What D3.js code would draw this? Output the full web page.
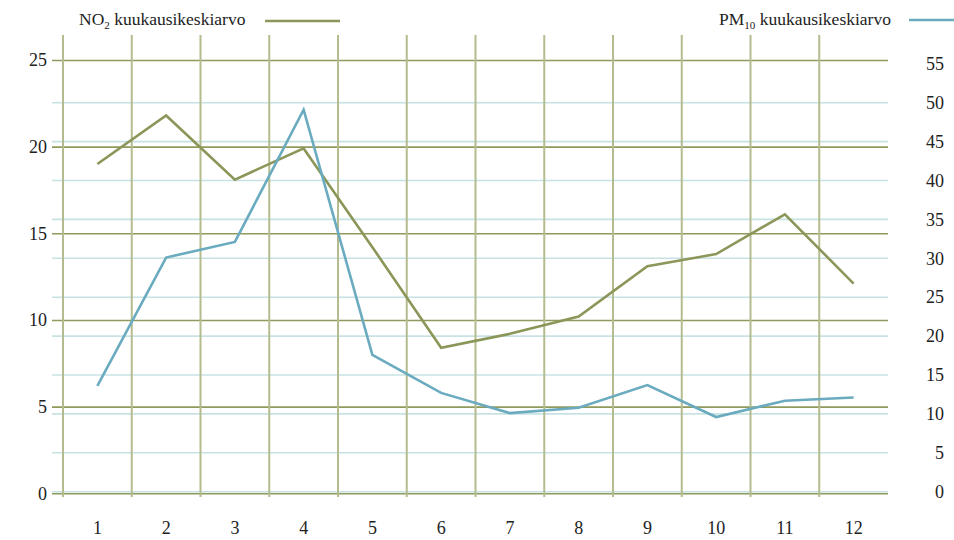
<!DOCTYPE html>
<html>
<head>
<meta charset="utf-8">
<script src="https://cdn.jsdelivr.net/npm/d3@7"></script>
<style>
  html, body { margin: 0; padding: 0; background: #fff; }
  svg { display: block; }
  svg text { font-family: "Liberation Serif", "DejaVu Serif", "Times New Roman", serif !important; fill: #222; }
</style>
</head>
<body>
<svg id="chart" width="954" height="540"></svg>
<script>
// ---- data ----
const months = ["1", "2", "3", "4", "5", "6", "7", "8", "9", "10", "11", "12"];
const no2Values = [19.0, 21.8, 18.1, 19.9, 14.2, 8.4, 9.2, 10.2, 13.1, 13.8, 16.1, 12.1];
const pm10Values = [13.6, 30.1, 32.1, 49.1, 17.6, 12.7, 10.1, 10.8, 13.7, 9.6, 11.7, 12.1];
const leftTicks = [0, 5, 10, 15, 20, 25];
const rightTicks = [0, 5, 10, 15, 20, 25, 30, 35, 40, 45, 50, 55];
const rightGrid = [0, 5, 10, 15, 20, 25, 30, 35, 40, 45, 50];
const no2Label = ["NO", "2", " kuukausikeskiarvo"];
const pm10Label = ["PM", "10", " kuukausikeskiarvo"];

// ---- styling ----
const FONT = '"Liberation Serif", "DejaVu Serif", "Times New Roman", serif';
const green = "#8b9659";
const greenGrid = "#8f9a5c";
const greenV = "#b4bb8e";
const blue = "#6aabbf";
const blueGrid = "#c8e2e4";

const svg = d3.select("#chart");
const gridLeft = 52, gridRight = 888;

const x = d3.scaleBand().domain(months).range([63, 888]);
const yL = d3.scaleLinear().domain([0, 25]).range([493.3, 60]);
const yR = d3.scaleLinear().domain([0, 55]).range([491.7, 63.8]);

// light blue horizontal grid (right scale)
svg.append("g").selectAll("line").data(rightGrid).join("line")
  .attr("x1", gridLeft).attr("x2", gridRight)
  .attr("y1", d => yR(d)).attr("y2", d => yR(d))
  .attr("stroke", blueGrid).attr("stroke-width", 1.6);

// green horizontal grid (left scale) via axis
const leftAxis = svg.append("g").attr("transform", `translate(${gridLeft},0)`)
  .call(d3.axisLeft(yL).tickValues(leftTicks).tickSize(-(gridRight - gridLeft)).tickPadding(5).tickFormat(d3.format("d")));
leftAxis.attr("font-family", null).attr("font-size", null);
leftAxis.select(".domain").remove();
leftAxis.selectAll(".tick line").attr("stroke", greenGrid).attr("stroke-width", 1.6);
leftAxis.selectAll(".tick text").style("font-size", "18px").style("font-family", FONT).attr("fill", "#222");

// vertical grid lines at band edges
svg.append("g").selectAll("line").data(months).join("line")
  .attr("x1", d => x(d)).attr("x2", d => x(d))
  .attr("y1", 35).attr("y2", 497)
  .attr("stroke", greenV).attr("stroke-width", 2);

// right axis labels
const rightAxis = svg.append("g").attr("transform", `translate(944,0)`)
  .call(d3.axisLeft(yR).tickValues(rightTicks).tickSize(0).tickPadding(0).tickFormat(d3.format("d")));
rightAxis.attr("font-family", null).attr("font-size", null);
rightAxis.select(".domain").remove();
rightAxis.selectAll(".tick text").style("font-size", "18px").style("font-family", FONT).attr("fill", "#222");

// bottom axis labels
const bottomAxis = svg.append("g").attr("transform", `translate(0,497)`)
  .call(d3.axisBottom(x).tickSize(0).tickPadding(24));
bottomAxis.attr("font-family", null).attr("font-size", null);
bottomAxis.select(".domain").remove();
bottomAxis.selectAll(".tick text").style("font-size", "18px").style("font-family", FONT).attr("fill", "#222");

// lines
const cx = d => x(d) + x.bandwidth() / 2;
const no2Line = d3.line().x((d, i) => cx(months[i])).y(d => yL(d));
const pm10Line = d3.line().x((d, i) => cx(months[i])).y(d => yR(d));

svg.append("path").datum(no2Values).attr("d", no2Line)
  .attr("fill", "none").attr("stroke", green).attr("stroke-width", 2.6);
svg.append("path").datum(pm10Values).attr("d", pm10Line)
  .attr("fill", "none").attr("stroke", blue).attr("stroke-width", 2.6);

// legends
function legendText(parts, xPos, yPos) {
  const t = svg.append("text").attr("x", xPos).attr("y", yPos)
    .style("font-size", "17.5px").style("font-family", FONT);
  t.append("tspan").text(parts[0]);
  t.append("tspan").style("font-size", "11px").attr("dy", 4).text(parts[1]);
  t.append("tspan").attr("dy", -4).text(parts[2]);
  return t;
}
legendText(no2Label, 79, 25);
svg.append("line").attr("x1", 265).attr("x2", 340).attr("y1", 21).attr("y2", 21)
  .attr("stroke", green).attr("stroke-width", 2.6);
legendText(pm10Label, 719, 25);
svg.append("line").attr("x1", 909).attr("x2", 954).attr("y1", 20).attr("y2", 20)
  .attr("stroke", blue).attr("stroke-width", 2.6);
</script>
</body>
</html>
